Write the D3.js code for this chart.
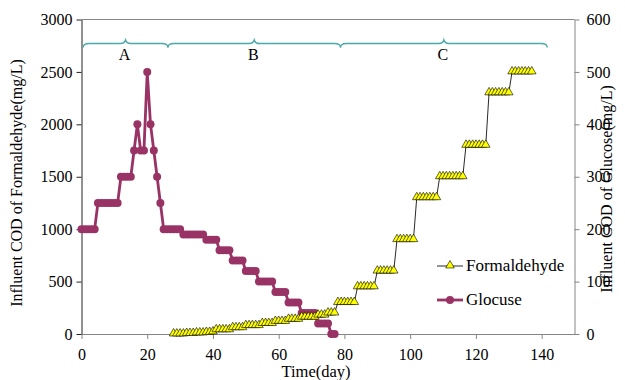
<!DOCTYPE html>
<html>
<head>
<meta charset="utf-8">
<script src="https://cdn.jsdelivr.net/npm/d3@7"></script>
<style>
  html, body { margin: 0; padding: 0; background: #fff; }
  svg { display: block; }
  svg text { font-family: "Liberation Serif", "Times New Roman", Times, "DejaVu Serif", serif; fill: #000; }
</style>
</head>
<body>
<svg id="chart" width="625" height="380"></svg>
<script>
// Influent formaldehyde (left axis, mg/L COD) by day
const formDays = [28,29,30,31,32,33,34,35,36,37,38,39,40,
  41,42,43,44,45, 46,47,48,49, 50,51,52,53,54, 55,56,57,58, 59,60,61,62,
  63,64,65,66, 67,68,69,70,71, 72,73,74, 75,76,77,
  78,79,80,81,82,83, 84,85,86,87,88,89, 90,91,92,93,94,95, 96,97,98,99,100,101,
  102,103,104,105,106,107,108, 109,110,111,112,113,114,115,116,
  117,118,119,120,121,122,123, 124,125,126,127,128,129,130, 131,132,133,134,135,136,137];
const formValues = [0,0,0,0,5,5,5,10,10,10,15,15,20,
  40,40,40,40,40, 60,60,60,60, 80,80,80,80,80, 100,100,100,100, 120,120,120,120,
  140,140,140,140, 160,160,160,160,160, 180,180,180, 200,200,200,
  300,300,300,300,300,300, 450,450,450,450,450,450, 600,600,600,600,600,600, 900,900,900,900,900,900,
  1300,1300,1300,1300,1300,1300,1300, 1500,1500,1500,1500,1500,1500,1500,1500,
  1800,1800,1800,1800,1800,1800,1800, 2300,2300,2300,2300,2300,2300,2300, 2500,2500,2500,2500,2500,2500,2500];

// Influent glucose (right axis, mg/L COD) by day
const glucDays = [0,1,2,3,4, 5,6,7,8,9,10,11, 12,13,14,15, 16,17,18,19,20,21,22,23,24,
  25,26,27,28,29,30, 31,32,33,34,35,36,37, 38,39,40,41, 42,43,44,45, 46,47,48,49,
  50,51,52,53, 54,55,56,57,58, 59,60,61,62, 63,64,65,66, 67,68,69,70,71, 72,73,74,75, 76,77];
const glucValues = [200,200,200,200,200, 250,250,250,250,250,250,250, 300,300,300,300,
  350,400,350,350,500,400,350,300,250,
  200,200,200,200,200,200, 190,190,190,190,190,190,190, 180,180,180,180, 160,160,160,160, 140,140,140,140,
  120,120,120,120, 100,100,100,100,100, 80,80,80,80, 60,60,60,60, 40,40,40,40,40, 20,20,20,20, 0,0];

// Axis ticks
const xTicks = [0,20,40,60,80,100,120,140];
const leftTicks = [0,500,1000,1500,2000,2500,3000];
const rightTicks = [0,100,200,300,400,500,600];

// Operating phases marked with braces along the top
const phaseNames = ["A","B","C"];
const phaseStart = [0.5, 26.3, 78.8];
const phaseEnd = [26.3, 78.8, 141.7];

const seriesNames = ["Formaldehyde","Glocuse"];

const FONT = '"Liberation Serif", "Times New Roman", Times, "DejaVu Serif", serif';

const svg = d3.select("#chart");
const x = d3.scaleLinear().domain([0,150]).range([81.5,574.5]);
const yL = d3.scaleLinear().domain([0,3000]).range([334,19.5]);
const yR = d3.scaleLinear().domain([0,600]).range([334,19.5]);

const purple = "#993366";
const teal = "#4aa9a9";
const grey = "#868686";

// Frame: top border
svg.append("line").attr("x1",x(0)).attr("x2",x(150)).attr("y1",yL(3000)).attr("y2",yL(3000))
  .attr("stroke",grey).attr("stroke-width",1);

function styleAxis(g, lineColor) {
  g.attr("font-family", FONT).attr("font-size", 16);
  g.select(".domain").attr("stroke", lineColor);
  g.selectAll(".tick line").attr("stroke", lineColor);
  g.selectAll("text").style("font-family", FONT).attr("fill", "#000");
}

// X axis
const gx = svg.append("g").attr("transform",`translate(0,${yL(0)})`)
  .call(d3.axisBottom(x).tickValues(xTicks).tickFormat(d3.format("d")).tickSize(5).tickSizeOuter(0).tickPadding(10));
styleAxis(gx, grey);

// Left axis
const gl = svg.append("g").attr("transform",`translate(${x(0)},0)`)
  .call(d3.axisLeft(yL).tickValues(leftTicks).tickFormat(d3.format("d")).tickSize(5).tickSizeOuter(0).tickPadding(4));
styleAxis(gl, "#222");

// Right axis
const gr = svg.append("g").attr("transform",`translate(${x(150)},0)`)
  .call(d3.axisRight(yR).tickValues(rightTicks).tickFormat(d3.format("d")).tickSize(5).tickSizeOuter(0).tickPadding(7));
styleAxis(gr, grey);

// Axis titles
svg.append("text").attr("x",x(75)-12).attr("y",377).attr("text-anchor","middle")
  .style("font-family",FONT).attr("font-size",16.5).text("Time(day)");
svg.append("text").attr("transform",`translate(22,${183}) rotate(-90)`).attr("text-anchor","middle")
  .style("font-family",FONT).attr("font-size",16).text("Influent COD of Formaldehyde(mg/L)");
svg.append("text").attr("transform",`translate(612,${189}) rotate(-90)`).attr("text-anchor","middle")
  .style("font-family",FONT).attr("font-size",16).text("Influent COD of Glucose(mg/L)");

// Phase braces
const braceY = 43.5;
function bracePath(a, b) {
  const x1 = x(a), x2 = x(b), xm = (x1 + x2) / 2;
  const p = d3.path();
  p.moveTo(x1, braceY + 4);
  p.quadraticCurveTo(x1, braceY, x1 + 6, braceY);
  p.lineTo(xm - 5, braceY);
  p.quadraticCurveTo(xm - 1, braceY, xm, braceY - 3.5);
  p.quadraticCurveTo(xm + 1, braceY, xm + 5, braceY);
  p.lineTo(x2 - 6, braceY);
  p.quadraticCurveTo(x2, braceY, x2, braceY + 4);
  return p.toString();
}
const phases = svg.append("g");
phaseNames.forEach((n, i) => {
  phases.append("path").attr("d", bracePath(phaseStart[i], phaseEnd[i]))
    .attr("fill","none").attr("stroke",teal).attr("stroke-width",1.4);
  phases.append("text").attr("x", (x(phaseStart[i]) + x(phaseEnd[i])) / 2 - 1).attr("y", 60)
    .attr("text-anchor","middle").style("font-family",FONT).attr("font-size",16).text(n);
});

// Glucose series
const gluc = glucDays.map((d,i) => [d, glucValues[i]]);
svg.append("path").datum(gluc)
  .attr("d", d3.line().x(d => x(d[0])).y(d => yR(d[1])))
  .attr("fill","none").attr("stroke",purple).attr("stroke-width",2.8);
svg.append("g").selectAll("circle").data(gluc).join("circle")
  .attr("cx", d => x(d[0])).attr("cy", d => yR(d[1])).attr("r",4).attr("fill",purple);

// Formaldehyde series
const form = formDays.map((d,i) => [d, formValues[i]]);
svg.append("path").datum(form)
  .attr("d", d3.line().x(d => x(d[0])).y(d => yL(d[1])))
  .attr("fill","none").attr("stroke","#111").attr("stroke-width",0.9);
const tri = d3.symbol().type(d3.symbolTriangle).size(32);
svg.append("g").selectAll("path").data(form).join("path")
  .attr("d", tri).attr("transform", d => `translate(${x(d[0])},${yL(d[1]) - 0.5})`)
  .attr("fill","#ffff00").attr("stroke","#000").attr("stroke-width",0.6);

// Legend
const lg = svg.append("g");
lg.append("line").attr("x1",437).attr("x2",463).attr("y1",266).attr("y2",266).attr("stroke","#111").attr("stroke-width",0.9);
lg.append("path").attr("d",tri).attr("transform","translate(450,265.5)")
  .attr("fill","#ffff00").attr("stroke","#000").attr("stroke-width",0.6);
lg.append("text").attr("x",466).attr("y",271).style("font-family",FONT).attr("font-size",17).text(seriesNames[0]);
lg.append("line").attr("x1",437).attr("x2",463).attr("y1",300).attr("y2",300).attr("stroke",purple).attr("stroke-width",2.8);
lg.append("circle").attr("cx",450).attr("cy",300).attr("r",4).attr("fill",purple);
lg.append("text").attr("x",466).attr("y",305).style("font-family",FONT).attr("font-size",17).text(seriesNames[1]);
</script>
</body>
</html>
